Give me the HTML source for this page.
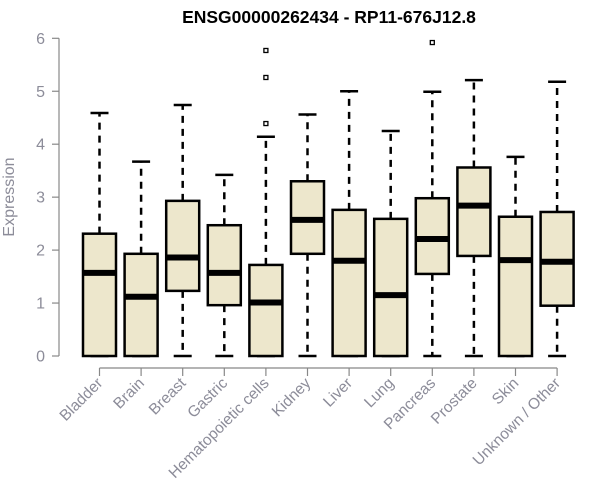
<!DOCTYPE html>
<html><head><meta charset="utf-8"><style>
body{margin:0;background:#fff}
svg{display:block;font-family:"Liberation Sans",sans-serif}
</style></head><body>
<svg id="chart" width="600" height="500">
<text x="329" y="23" text-anchor="middle" font-weight="bold" font-size="17.5">ENSG00000262434 - RP11-676J12.8</text>
<text transform="translate(14,197) rotate(-90)" text-anchor="middle" font-size="16" fill="#8c8c99">Expression</text>
<g id="yaxis"></g>
<g id="xaxis"></g>
<g id="boxes"></g>
</svg>
<script>
const categories=["Bladder","Brain","Breast","Gastric","Hematopoietic cells","Kidney","Liver","Lung","Pancreas","Prostate","Skin","Unknown / Other"];
const lowWhisker=[0,0,0,0,0,0,0,0,0,0,0,0];
const q1=[0,0,1.23,0.96,0,1.93,0,0,1.55,1.89,0,0.95];
const medians=[1.57,1.12,1.86,1.57,1.01,2.57,1.80,1.15,2.21,2.84,1.81,1.78];
const q3=[2.31,1.93,2.93,2.47,1.72,3.30,2.76,2.59,2.98,3.56,2.63,2.72];
const highWhisker=[4.59,3.67,4.74,3.42,4.14,4.56,5.00,4.25,4.99,5.21,3.76,5.18];
const outliers=[[],[],[],[],[5.77,5.26,4.39],[],[],[],[5.92],[],[],[]];
const yTicks=[0,1,2,3,4,5,6];
const NS="http://www.w3.org/2000/svg";
function y(v){return 356-v*52.95;}
function x(i){return 99.5+i*41.6;}
function mk(tag,attrs,parent){const e=document.createElementNS(NS,tag);for(const k in attrs)e.setAttribute(k,attrs[k]);parent.appendChild(e);return e;}
const ya=document.getElementById('yaxis'),xa=document.getElementById('xaxis'),bx=document.getElementById('boxes');
const axisCol="#888";
let l=mk('line',{x1:59,x2:59,y1:y(0),y2:y(6),stroke:axisCol,'stroke-width':1.2},ya);


yTicks.forEach(t=>{
 let tk=mk('line',{x1:52,x2:59,y1:y(t),y2:y(t),stroke:axisCol,'stroke-width':1.2},ya);
 
 
 let tx=mk('text',{x:45,y:y(t)+5.5,'text-anchor':'end','font-size':16,fill:'#8c8c99'},ya);
 tx.textContent=t;
 
 
});
let xl=mk('line',{x1:x(0),x2:x(categories.length-1),y1:368,y2:368,stroke:axisCol,'stroke-width':1.2},xa);


categories.forEach((c,i)=>{
 const cx=x(i);
 let tk=mk('line',{x1:cx,x2:cx,y1:368,y2:376,stroke:axisCol,'stroke-width':1.2},xa);
 
 
 let tx=mk('text',{transform:`translate(${cx+4},${384}) rotate(-45)`,'text-anchor':'end','font-size':15.5,fill:'#8c8c99'},xa);
 tx.textContent=c;
 
 
 const g=mk('g',{},bx);
 
 
 const st={stroke:'#000','stroke-width':2.5,'stroke-dasharray':'7,6'};
 mk('line',Object.assign({x1:cx,x2:cx,y1:y(q3[i]),y2:y(highWhisker[i])},st),g);
 mk('line',Object.assign({x1:cx,x2:cx,y1:y(q1[i]),y2:y(lowWhisker[i])},st),g);
 mk('line',{x1:cx-9,x2:cx+9,y1:y(highWhisker[i]),y2:y(highWhisker[i]),stroke:'#000','stroke-width':2.5},g);
 mk('line',{x1:cx-9,x2:cx+9,y1:y(lowWhisker[i]),y2:y(lowWhisker[i]),stroke:'#000','stroke-width':2.5},g);
 mk('rect',{x:cx-16.5,y:y(q3[i]),width:33,height:y(q1[i])-y(q3[i]),fill:'#ede7cc',stroke:'#000','stroke-width':2.5},g);
 mk('line',{x1:cx-16.5,x2:cx+16.5,y1:y(medians[i]),y2:y(medians[i]),stroke:'#000','stroke-width':6},g);
 outliers[i].forEach(o=>{
  let p=mk('rect',{x:cx-2,y:y(o)-2,width:4,height:4,fill:'#fff',stroke:'#000','stroke-width':1.3},g);
  
  
 });
});
</script>
</body></html>
